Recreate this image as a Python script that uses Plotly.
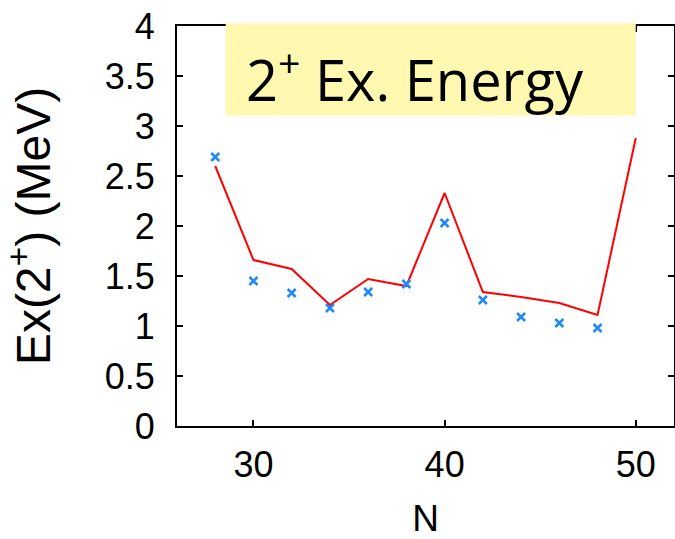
import plotly.graph_objects as go

N_exp = [28, 30, 32, 34, 36, 38, 40, 42, 44, 46, 48]
E_exp = [2.69, 1.45, 1.33, 1.18, 1.34, 1.42, 2.03, 1.26, 1.09, 1.03, 0.98]

N_calc = [28, 30, 32, 34, 36, 38, 40, 42, 44, 46, 48, 50]
E_calc = [2.60, 1.66, 1.57, 1.21, 1.47, 1.40, 2.33, 1.34, 1.29, 1.23, 1.11, 2.88]

x_ticks = [30, 40, 50]
y_ticks = [0, 0.5, 1, 1.5, 2, 2.5, 3, 3.5, 4]
y_tick_labels = ["0", "0.5", "1", "1.5", "2", "2.5", "3", "3.5", "4"]

fig = go.Figure()
fig.add_trace(go.Scatter(x=N_calc, y=E_calc, mode="lines",
                         line=dict(color="#ff0000", width=2), showlegend=False))
fig.add_trace(go.Scatter(x=N_exp, y=E_exp, mode="markers",
                         marker=dict(symbol="x-thin", size=8, color="#1e88ff",
                                     line=dict(width=2.5, color="#1e88ff")),
                         showlegend=False))

fig.add_shape(type="rect", xref="paper", yref="paper",
              x0=0.098, x1=0.923, y0=0.776, y1=1.007,
              fillcolor="#fff8b0", line=dict(width=0), layer="above")
fig.add_annotation(xref="paper", yref="paper", x=0.135, y=0.875,
                   xanchor="left", yanchor="middle", showarrow=False,
                   text="2<sup>+</sup> Ex. Energy",
                   font=dict(family="Open Sans", size=56, color="black"))

axis_common = dict(showline=True, linecolor="black", linewidth=2, mirror="ticks",
                   ticks="inside", ticklen=6, tickwidth=2, tickcolor="black",
                   showgrid=False, zeroline=False, automargin=False,
                   tickfont=dict(family="Liberation Sans", size=36, color="black"))
fig.update_xaxes(range=[26, 52], tickvals=x_ticks, ticklabelstandoff=6,
                 title=dict(text="N", font=dict(family="Liberation Sans", size=37, color="black"), standoff=34),
                 **axis_common)
fig.update_yaxes(range=[0, 4], tickvals=y_ticks, ticktext=y_tick_labels, ticklabelstandoff=13,
                 title=dict(text="Ex(2<sup>+</sup>) (MeV)", font=dict(family="Liberation Sans", size=48, color="black"), standoff=40),
                 **axis_common)

fig.update_layout(width=675, height=539, margin=dict(l=177, r=1, t=26, b=113, autoexpand=False),
                  plot_bgcolor="white", paper_bgcolor="white")
fig.write_html("out.html")
